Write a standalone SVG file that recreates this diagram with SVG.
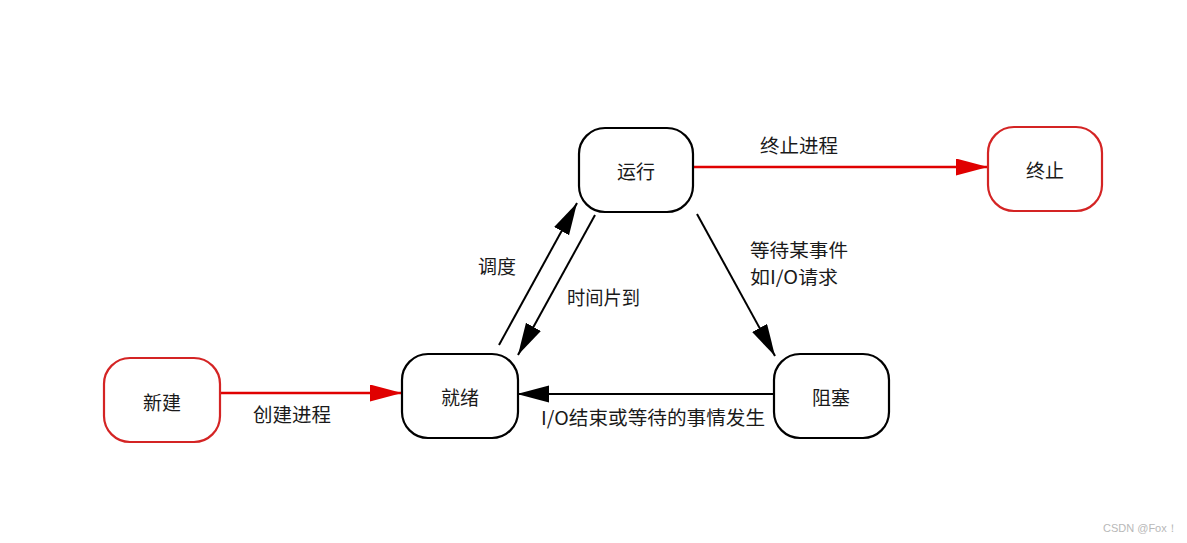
<svg xmlns="http://www.w3.org/2000/svg" width="1187" height="543" viewBox="0 0 1187 543">
<style>
.bg{fill:#ffffff}
.node{fill:#ffffff;stroke-width:2.2}
.blk{stroke:#000000}
.red{stroke:#d42424}
.lbl{font-family:"Noto Sans CJK SC","Noto Sans",sans-serif;font-size:19px;fill:#1a1a1a}
.sm{font-size:18px}
.ntxt{text-anchor:middle;dominant-baseline:central}
.ln{fill:none;stroke-width:2}
.lnb{stroke:#000000}
.lnr{stroke:#e00000;stroke-width:2.6}
.wm{font-family:"Liberation Sans",Arial,sans-serif;font-size:11px;fill:#b8b8b8}
</style>
<defs>
<marker id="ab" markerUnits="userSpaceOnUse" markerWidth="34" markerHeight="20" refX="32" refY="8.5" orient="auto">
<path d="M0,0 L32,8.5 L0,17 z" fill="#000000"/>
</marker>
<marker id="ar" markerUnits="userSpaceOnUse" markerWidth="34" markerHeight="20" refX="32" refY="8.5" orient="auto">
<path d="M0,0 L32,8.5 L0,17 z" fill="#e00000"/>
</marker>
</defs>
<rect class="bg" x="0" y="0" width="1187" height="543"/>
<g id="connectors">
<line class="ln lnr" x1="220" y1="393" x2="402" y2="393" marker-end="url(#ar)"/>
<line class="ln lnr" x1="694" y1="167" x2="988" y2="167" marker-end="url(#ar)"/>
<line class="ln lnb" x1="774" y1="394" x2="517" y2="394" marker-end="url(#ab)"/>
<line class="ln lnb" x1="499" y1="345" x2="577" y2="203" marker-end="url(#ab)"/>
<line class="ln lnb" x1="595" y1="215" x2="518" y2="355" marker-end="url(#ab)"/>
<line class="ln lnb" x1="697" y1="214" x2="775" y2="356" marker-end="url(#ab)"/>
<text class="lbl" x="760" y="153" textLength="78" lengthAdjust="spacingAndGlyphs">终止进程</text>
<text class="lbl" x="478" y="274">调度</text>
<text class="lbl" x="567" y="305" textLength="73" lengthAdjust="spacingAndGlyphs">时间片到</text>
<text class="lbl sm" x="750" y="257" textLength="98" lengthAdjust="spacingAndGlyphs">等待某事件</text>
<text class="lbl sm" x="750" y="284" textLength="88" lengthAdjust="spacingAndGlyphs">如I/O请求</text>
<text class="lbl" x="253" y="422" textLength="78" lengthAdjust="spacingAndGlyphs">创建进程</text>
<text class="lbl" x="541" y="425" textLength="224" lengthAdjust="spacingAndGlyphs">I/O结束或等待的事情发生</text>
</g>
<g id="node-running">
<rect class="node blk" x="579" y="128" width="114" height="84" rx="26"/>
<text class="lbl ntxt" x="636" y="170">运行</text>
</g>
<g id="node-terminated">
<rect class="node red" x="988" y="127" width="114" height="84" rx="26"/>
<text class="lbl ntxt" x="1045" y="169">终止</text>
</g>
<g id="node-new">
<rect class="node red" x="104" y="358" width="116" height="84" rx="26"/>
<text class="lbl ntxt" x="162" y="401">新建</text>
</g>
<g id="node-ready">
<rect class="node blk" x="402" y="354" width="116" height="84" rx="26"/>
<text class="lbl ntxt" x="460" y="396">就绪</text>
</g>
<g id="node-blocked">
<rect class="node blk" x="774" y="354" width="115" height="84" rx="26"/>
<text class="lbl ntxt" x="831" y="396">阻塞</text>
</g>
<text class="wm" x="1103" y="532">CSDN @Fox！</text>
</svg>
